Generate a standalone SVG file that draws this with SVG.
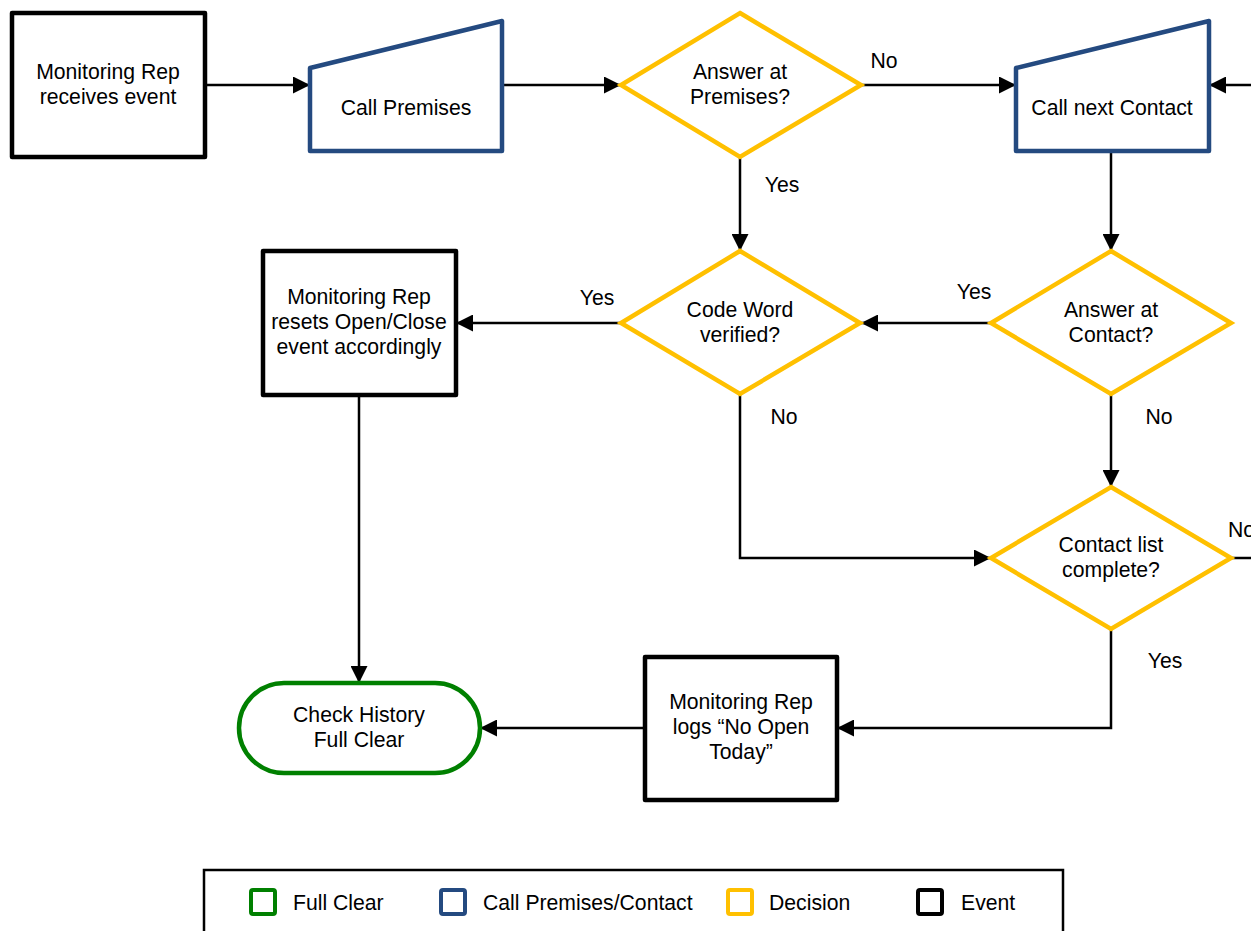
<svg xmlns="http://www.w3.org/2000/svg" width="1251" height="931" viewBox="0 0 1251 931">
  <style>
    text { font-family: "Liberation Sans", Arial, sans-serif; font-size: 21.2px; fill: #000; }
    .lbl { text-anchor: middle; }
    .event { fill: #fff; stroke: #000; stroke-width: 4.5; stroke-linejoin: round; }
    .call { fill: #fff; stroke: #244a80; stroke-width: 4.5; stroke-linejoin: round; }
    .decision { fill: #fff; stroke: #ffc000; stroke-width: 4.5; stroke-linejoin: miter; }
    .clear { fill: #fff; stroke: #008000; stroke-width: 4.5; }
    .conn { fill: none; stroke: #000; stroke-width: 2.5; }
  </style>
  <defs>
    <marker id="arrow" viewBox="0 0 10 10" refX="10" refY="5" markerUnits="userSpaceOnUse" markerWidth="19" markerHeight="17" orient="auto">
      <path d="M0,0 L10,5 L0,10 Z" fill="#000"/>
    </marker>
  </defs>
  <rect width="1251" height="931" fill="#fff"/>

  <g id="connectors">
    <path class="conn" d="M205,85 H310" marker-end="url(#arrow)"/>
    <path class="conn" d="M502,85 H621" marker-end="url(#arrow)"/>
    <path class="conn" d="M861,85 H1016" marker-end="url(#arrow)"/>
    <path class="conn" d="M1260,85 H1209" marker-end="url(#arrow)"/>
    <path class="conn" d="M740,157 V251" marker-end="url(#arrow)"/>
    <path class="conn" d="M1111,151 V251" marker-end="url(#arrow)"/>
    <path class="conn" d="M991,323 H861" marker-end="url(#arrow)"/>
    <path class="conn" d="M621,323 H456" marker-end="url(#arrow)"/>
    <path class="conn" d="M740,394 V558 H991" marker-end="url(#arrow)"/>
    <path class="conn" d="M1111,394 V487" marker-end="url(#arrow)"/>
    <path class="conn" d="M1231,558 H1260"/>
    <path class="conn" d="M1111,629 V728 H837" marker-end="url(#arrow)"/>
    <path class="conn" d="M645,728 H480" marker-end="url(#arrow)"/>
    <path class="conn" d="M359,395 V683" marker-end="url(#arrow)"/>
    <text x="884" y="68" class="lbl">No</text>
    <text x="782" y="192" class="lbl">Yes</text>
    <text x="974" y="299" class="lbl">Yes</text>
    <text x="597" y="305" class="lbl">Yes</text>
    <text x="784" y="424" class="lbl">No</text>
    <text x="1159" y="424" class="lbl">No</text>
    <text x="1228" y="537">No</text>
    <text x="1165" y="668" class="lbl">Yes</text>
  </g>

  <g id="receive-event">
    <rect class="event" x="12" y="13" width="193" height="144"/>
    <text x="108" y="79" class="lbl">Monitoring Rep</text>
    <text x="108" y="104" class="lbl">receives event</text>
  </g>

  <g id="call-premises">
    <path class="call" d="M310,68 L502,21 V151 H310 Z"/>
    <text x="406" y="115" class="lbl">Call Premises</text>
  </g>

  <g id="answer-premises">
    <path class="decision" d="M740,13 L861,85 L740,157 L621,85 Z"/>
    <text x="740" y="79" class="lbl">Answer at</text>
    <text x="740" y="104" class="lbl">Premises?</text>
  </g>

  <g id="call-next-contact">
    <path class="call" d="M1016,68 L1209,21 V151 H1016 Z"/>
    <text x="1112" y="115" class="lbl">Call next Contact</text>
  </g>

  <g id="code-word">
    <path class="decision" d="M740,251 L860,323 L740,394 L621,323 Z"/>
    <text x="740" y="317" class="lbl">Code Word</text>
    <text x="740" y="342" class="lbl">verified?</text>
  </g>

  <g id="answer-contact">
    <path class="decision" d="M1111,251 L1231,323 L1111,394 L991,323 Z"/>
    <text x="1111" y="317" class="lbl">Answer at</text>
    <text x="1111" y="342" class="lbl">Contact?</text>
  </g>

  <g id="contact-list">
    <path class="decision" d="M1111,487 L1231,558 L1111,629 L991,558 Z"/>
    <text x="1111" y="552" class="lbl">Contact list</text>
    <text x="1111" y="577" class="lbl">complete?</text>
  </g>

  <g id="reset-event">
    <rect class="event" x="263" y="251" width="193" height="144"/>
    <text x="359" y="304" class="lbl">Monitoring Rep</text>
    <text x="359" y="329" class="lbl">resets Open/Close</text>
    <text x="359" y="354" class="lbl">event accordingly</text>
  </g>

  <g id="check-history">
    <rect class="clear" x="239" y="683" width="241" height="90" rx="45" ry="45"/>
    <text x="359" y="722" class="lbl">Check History</text>
    <text x="359" y="747" class="lbl">Full Clear</text>
  </g>

  <g id="log-no-open">
    <rect class="event" x="645" y="657" width="192" height="143"/>
    <text x="741" y="709" class="lbl">Monitoring Rep</text>
    <text x="741" y="734" class="lbl">logs “No Open</text>
    <text x="741" y="759" class="lbl">Today”</text>
  </g>

  <g id="legend">
    <rect x="204" y="870" width="859" height="80" fill="#fff" stroke="#000" stroke-width="2.5"/>
    <rect x="251" y="890" width="24" height="24" rx="2" fill="#fff" stroke="#008000" stroke-width="4"/>
    <text x="293" y="910">Full Clear</text>
    <rect x="441" y="890" width="24" height="24" rx="2" fill="#fff" stroke="#244a80" stroke-width="4"/>
    <text x="483" y="910">Call Premises/Contact</text>
    <rect x="728" y="890" width="24" height="24" rx="2" fill="#fff" stroke="#ffc000" stroke-width="4"/>
    <text x="769" y="910">Decision</text>
    <rect x="918" y="890" width="24" height="24" rx="2" fill="#fff" stroke="#000" stroke-width="4"/>
    <text x="961" y="910">Event</text>
  </g>
</svg>
